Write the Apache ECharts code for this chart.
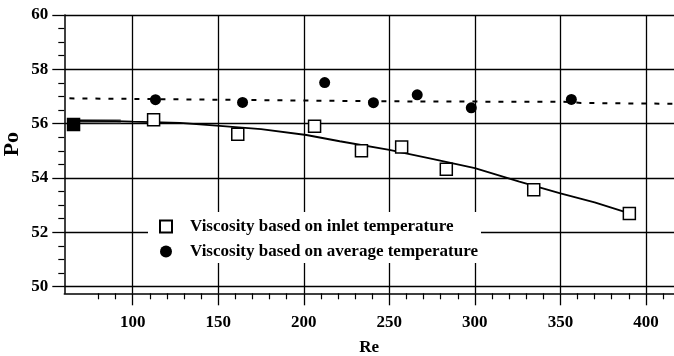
<!DOCTYPE html>
<html>
<head>
<meta charset="utf-8">
<script src="https://cdn.jsdelivr.net/npm/echarts@6/dist/echarts.min.js"></script>
<style>
html,body{margin:0;padding:0;background:#fff;}
#c{width:674px;height:356px;}
</style>
</head>
<body>
<div id="c"></div>
<script>
// ---- data ----
const inletRe = [65.4, 112.2, 161.4, 206.3, 233.7, 257.2, 283.3, 334.4, 390.3];
const inletPo = [55.97, 56.14, 55.61, 55.90, 55.00, 55.14, 54.32, 53.56, 52.69];
const avgRe = [113.3, 164.2, 212.2, 240.7, 266.3, 297.9, 356.4];
const avgPo = [56.88, 56.78, 57.51, 56.77, 57.06, 56.58, 56.89];
const inletFitRe = [65.4, 90, 100, 127.5, 150.8, 175, 201.5, 221, 250, 275, 300, 326, 350, 370, 389];
const inletFitPo = [56.10, 56.09, 56.07, 56.03, 55.92, 55.80, 55.58, 55.35, 55.03, 54.70, 54.36, 53.86, 53.43, 53.10, 52.72];
const inletFitStartRe = [65.4, 93];
const inletFitStartPo = [56.10, 56.09];
const avgFitRe = [63, 150, 250, 355, 362, 416.4];
const avgFitPo = [56.93, 56.88, 56.82, 56.80, 56.76, 56.73];
const xMajorTicks = [100, 150, 200, 250, 300, 350, 400];
const xMinorTicks = [80, 90, 110, 120, 130, 140, 160, 170, 180, 190, 210, 220, 230, 240, 260, 270, 280, 290, 310, 320, 330, 340, 360, 370, 380, 390, 410];
const yMajorTicks = [50, 52, 54, 56, 58, 60];
const yMinorTicks = [50.5, 51, 51.5, 52.5, 53, 53.5, 54.5, 55, 55.5, 56.5, 57, 57.5, 58.5, 59, 59.5];
const legendNames = ['Viscosity based on inlet temperature', 'Viscosity based on average temperature'];

const pairs = (xs, ys) => xs.map((x, i) => [x, ys[i]]);
const serif = 'Liberation Serif';
const X_MIN = 60, X_MAX = 416.4, Y_MIN = 49.75, Y_MAX = 60;

const chart = echarts.init(document.getElementById('c'), null, {renderer: 'canvas'});
const xAxisBase = {
  type: 'value', min: X_MIN, max: X_MAX, position: 'bottom'
};
const yAxisBase = {
  type: 'value', min: Y_MIN, max: Y_MAX, position: 'left'
};
chart.setOption({
  animation: false,
  backgroundColor: '#fff',
  grid: {left: 64.3, right: 0, top: 15, bottom: 62.7, outerBoundsMode: 'none', containLabel: false},
  legend: {
    data: legendNames.map(n => ({name: n})),
    orient: 'vertical',
    left: 148, top: 212,
    padding: [6, 3, 3, 11],
    backgroundColor: '#fff',
    itemWidth: 12, itemHeight: 12, itemGap: 8,
    selectedMode: false,
    textStyle: {fontFamily: serif, fontSize: 17, fontWeight: 'bold', color: '#000', padding: [0, 0, 0, 13]},
    z: 10
  },
  xAxis: [
    Object.assign({}, xAxisBase, {
      name: 'Re', nameLocation: 'middle', nameGap: 46, nameMoveOverlap: false,
      nameTextStyle: {fontFamily: serif, fontWeight: 'bold', fontSize: 17, color: '#000'},
      axisLine: {show: true, lineStyle: {color: '#000', width: 1.5}},
      axisTick: {show: true, inside: false, length: 12, customValues: xMajorTicks, lineStyle: {color: '#000', width: 1.3}},
      axisLabel: {customValues: xMajorTicks, margin: 21, fontFamily: serif, fontWeight: 'bold', fontSize: 17, color: '#000'},
      splitLine: {show: true, lineStyle: {color: '#000', width: 1.3}}
    }),
    Object.assign({}, xAxisBase, {
      axisLine: {show: false},
      axisTick: {show: true, inside: false, length: 6, customValues: xMinorTicks, lineStyle: {color: '#000', width: 1.2}},
      axisLabel: {show: false},
      splitLine: {show: false}
    })
  ],
  yAxis: [
    Object.assign({}, yAxisBase, {
      name: 'Po', nameLocation: 'middle', nameGap: 41, nameRotate: 90, nameMoveOverlap: false,
      nameTextStyle: {fontFamily: serif, fontWeight: 'bold', fontSize: 22, color: '#000', padding: [0, 0, 0, 20]},
      axisLine: {show: true, lineStyle: {color: '#000', width: 1.5}},
      axisTick: {show: true, inside: false, length: 12, customValues: yMajorTicks, lineStyle: {color: '#000', width: 1.3}},
      axisLabel: {customValues: yMajorTicks, margin: 16, fontFamily: serif, fontWeight: 'bold', fontSize: 17, color: '#000'},
      splitLine: {show: true, lineStyle: {color: '#000', width: 1.3}}
    }),
    Object.assign({}, yAxisBase, {
      axisLine: {show: false},
      axisTick: {show: true, inside: false, length: 6, customValues: yMinorTicks, lineStyle: {color: '#000', width: 1.2}},
      axisLabel: {show: false},
      splitLine: {show: false}
    })
  ],
  series: [
    {
      type: 'line', name: 'inletFitStart', data: pairs(inletFitStartRe, inletFitStartPo),
      showSymbol: false, symbol: 'none', lineStyle: {color: '#777', width: 4}, z: 2, silent: true
    },
    {
      type: 'line', name: 'inletFit', data: pairs(inletFitRe, inletFitPo),
      showSymbol: false, symbol: 'none', lineStyle: {color: '#000', width: 1.8}, z: 3, silent: true
    },
    {
      type: 'line', name: 'avgFit', data: pairs(avgFitRe, avgFitPo),
      showSymbol: false, symbol: 'none', lineStyle: {color: '#000', width: 2, type: [5, 8]}, z: 3, silent: true
    },
    {
      type: 'scatter', name: legendNames[0],
      data: pairs(inletRe, inletPo).map((p, i) => i === 0 ? {value: p, itemStyle: {color: '#000'}} : p),
      symbol: 'rect', symbolSize: 12,
      itemStyle: {color: '#fff', borderColor: '#000', borderWidth: 1.5, opacity: 1},
      z: 5
    },
    {
      type: 'scatter', name: legendNames[1], data: pairs(avgRe, avgPo),
      symbol: 'circle', symbolSize: 11,
      itemStyle: {color: '#000', opacity: 1},
      z: 5
    }
  ]
});
</script>
</body>
</html>
